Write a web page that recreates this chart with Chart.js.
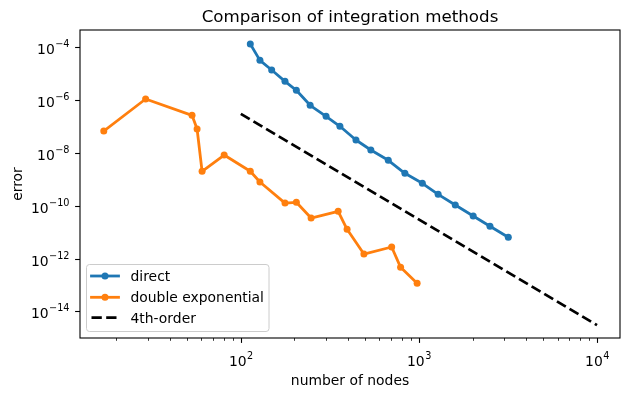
<!DOCTYPE html>
<html>
<head>
<meta charset="utf-8">
<script src="https://cdn.jsdelivr.net/npm/chart.js@4/dist/chart.umd.min.js"></script>
<style>
  html, body { margin: 0; padding: 0; background: #fff; }
</style>
</head>
<body>
<canvas id="chart" width="631" height="396"></canvas>
<script>
// data
const directNodes = [113, 128, 149, 177, 205, 245, 301, 360, 443, 537, 673, 834, 1045, 1282, 1600, 2017, 2506, 3176];
const directError = [1.33e-4, 3.2e-5, 1.38e-5, 5.15e-6, 2.35e-6, 6.35e-7, 2.43e-7, 1.02e-7, 3.08e-8, 1.29e-8,
                     5.25e-9, 1.69e-9, 7.05e-10, 2.7e-10, 1.06e-10, 4.07e-11, 1.66e-11, 6.35e-12];
const deNodes = [17, 29.2, 53.2, 56.8, 60.6, 80.6, 113, 128, 177, 205, 248, 352, 395, 491, 703, 789, 977];
const deError = [6.76e-8, 1.1e-6, 2.65e-7, 8.03e-8, 2.01e-9, 8.32e-9, 2.01e-9, 7.91e-10, 1.26e-10, 1.35e-10,
                 3.42e-11, 6.14e-11, 1.28e-11, 1.48e-12, 2.73e-12, 4.64e-13, 1.15e-13];
const refNodes = [100, 10000];
const refError = [3e-7, 3e-15];

const seriesLabels = ["direct", "double exponential", "4th-order"];
const xMajorExp = [2, 3, 4];
const yMajorExp = [-4, -6, -8, -10, -12, -14];

const BLUE = "#1f77b4";
const ORANGE = "#ff7f0e";
const FONT = '"DejaVu Sans", sans-serif';

const toPoints = (xs, ys) => xs.map((x, i) => ({ x, y: ys[i] }));

// draw "10^n" as base + superscript
function powLabel(ctx, exp, x, y, align) {
    const base = "10";
    const sup = exp < 0 ? "\u2212" + (-exp) : String(exp);
    ctx.font = "13.9px " + FONT;
    const wb = ctx.measureText(base).width;
    ctx.font = "9.7px " + FONT;
    const ws = ctx.measureText(sup).width;
    const w = wb + ws;
    const left = align === "center" ? x - w / 2 : x - w;
    ctx.textAlign = "left";
    ctx.textBaseline = "alphabetic";
    ctx.font = "13.9px " + FONT;
    ctx.fillText(base, left, y);
    ctx.font = "9.7px " + FONT;
    ctx.fillText(sup, left + wb + 0.5, y - 7);
}

// frame, ticks, labels, title, legend
const decor = {
    id: "decor",
    afterDatasetsDraw(chart) {
        const ctx = chart.ctx;
        const a = chart.chartArea;
        const xs = chart.scales.x, ys = chart.scales.y;
        ctx.save();
        ctx.fillStyle = "#000";
        ctx.strokeStyle = "#000";

        // spines
        ctx.lineWidth = 1.1;
        ctx.strokeRect(a.left, a.top, a.right - a.left, a.bottom - a.top);

        // x ticks (major + minor)
        for (let e = 1; e <= 4; e++) {
            for (let m = 1; m <= 9; m++) {
                const v = m * Math.pow(10, e);
                if (v < xs.min || v > xs.max) continue;
                const px = Math.round(xs.getPixelForValue(v)) + 0.5;
                const major = m === 1;
                ctx.lineWidth = major ? 1.1 : 0.8;
                ctx.beginPath();
                ctx.moveTo(px, a.bottom);
                ctx.lineTo(px, a.bottom + (major ? 4.9 : 2.8));
                ctx.stroke();
            }
        }
        xMajorExp.forEach(e => {
            powLabel(ctx, e, xs.getPixelForValue(Math.pow(10, e)), a.bottom + 28, "center");
        });

        // y ticks
        ctx.lineWidth = 1.1;
        yMajorExp.forEach(e => {
            const py = Math.round(ys.getPixelForValue(Math.pow(10, e))) + 0.5;
            ctx.beginPath();
            ctx.moveTo(a.left, py);
            ctx.lineTo(a.left - 4.9, py);
            ctx.stroke();
            powLabel(ctx, e, 69, ys.getPixelForValue(Math.pow(10, e)) + 7, "right");
        });

        // titles
        ctx.textAlign = "center";
        ctx.textBaseline = "alphabetic";
        ctx.font = "16.7px " + FONT;
        ctx.fillText("Comparison of integration methods", (a.left + a.right) / 2, 22);
        ctx.font = "13.9px " + FONT;
        ctx.fillText("number of nodes", (a.left + a.right) / 2, 385);
        ctx.save();
        ctx.translate(21.5, (a.top + a.bottom) / 2);
        ctx.rotate(-Math.PI / 2);
        ctx.fillText("error", 0, 0);
        ctx.restore();

        // legend
        const lx = 86.5, ly = 264.5, lw = 182.5, lh = 67;
        ctx.beginPath();
        ctx.roundRect(lx, ly, lw, lh, 3);
        ctx.fillStyle = "rgba(255,255,255,0.8)";
        ctx.fill();
        ctx.strokeStyle = "#cccccc";
        ctx.lineWidth = 1;
        ctx.stroke();

        const rows = [276, 297.3, 317.7];
        chart.data.datasets.forEach((ds, i) => {
            const y = rows[i];
            ctx.strokeStyle = ds.borderColor;
            ctx.lineWidth = ds.borderWidth;
            ctx.setLineDash(ds.borderDash || []);
            ctx.lineCap = ds.borderDash ? "butt" : "square";
            ctx.beginPath();
            ctx.moveTo(91.5, y);
            ctx.lineTo(ds.borderDash ? 119.5 : 118.5, y);
            ctx.stroke();
            ctx.setLineDash([]);
            if (ds.pointRadius > 0) {
                ctx.fillStyle = ds.borderColor;
                ctx.beginPath();
                ctx.arc(105, y, ds.pointRadius, 0, Math.PI * 2);
                ctx.fill();
            }
            ctx.fillStyle = "#000";
            ctx.textAlign = "left";
            ctx.font = "13.9px " + FONT;
            ctx.fillText(ds.label, 130.5, y + 5);
        });
        ctx.restore();
    }
};

new Chart(document.getElementById("chart"), {
    type: "line",
    data: {
        datasets: [
            {
                label: seriesLabels[0],
                data: toPoints(directNodes, directError),
                borderColor: BLUE,
                backgroundColor: BLUE,
                borderWidth: 2.8,
                borderJoinStyle: "round",
                borderCapStyle: "square",
                pointRadius: 3.5,
                pointBorderWidth: 0,
                pointBackgroundColor: BLUE,
            },
            {
                label: seriesLabels[1],
                data: toPoints(deNodes, deError),
                borderColor: ORANGE,
                backgroundColor: ORANGE,
                borderWidth: 2.8,
                borderJoinStyle: "round",
                borderCapStyle: "square",
                pointRadius: 3.5,
                pointBorderWidth: 0,
                pointBackgroundColor: ORANGE,
            },
            {
                label: seriesLabels[2],
                data: toPoints(refNodes, refError),
                borderColor: "#000",
                borderWidth: 2.8,
                borderDash: [10.3, 4.4],
                pointRadius: 0,
            },
        ],
    },
    options: {
        animation: false,
        responsive: false,
        devicePixelRatio: 1,
        layout: { padding: { left: 80, right: 11, top: 30, bottom: 58 } },
        scales: {
            x: { type: "logarithmic", display: false, min: 12.5, max: 13460 },
            y: { type: "logarithmic", display: false, min: 9.77e-16, max: 4.52e-4 },
        },
        plugins: {
            legend: { display: false },
            title: { display: false },
            tooltip: { enabled: false },
        },
    },
    plugins: [decor],
});
</script>
</body>
</html>
